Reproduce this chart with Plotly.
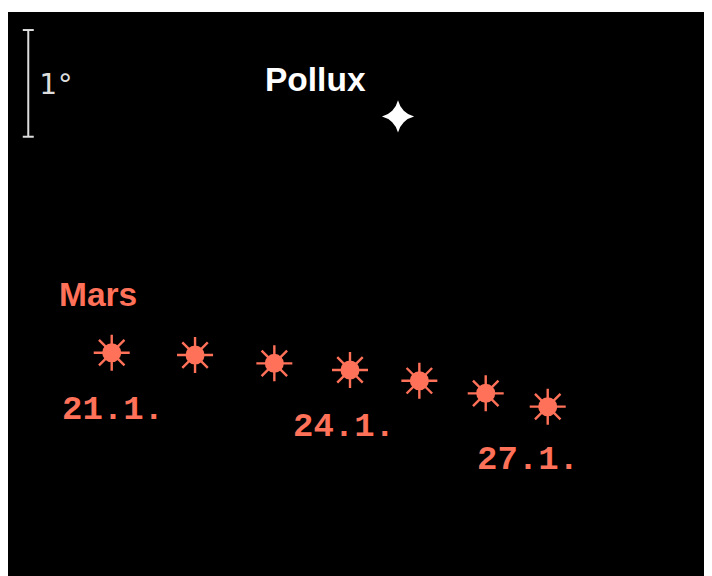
import plotly.graph_objects as go

# Mars positions (degrees, relative frame), 21.1. .. 27.1.
mars_dates = ["21.1.", "22.1.", "23.1.", "24.1.", "25.1.", "26.1.", "27.1."]
mars_x = [0.972, 1.753, 2.496, 3.205, 3.855, 4.477, 5.058]
mars_y = [2.093, 2.071, 1.993, 1.931, 1.830, 1.712, 1.587]
labelled_dates = ["21.1.", "24.1.", "27.1."]

pollux_x = [3.655]
pollux_y = [4.307]

scale_x = 0.19
scale_y0 = 4.117
scale_len = 1.0  # degrees

MARS = "#FF7158"
WHITE = "#FFFFFF"
GREY = "#DDDDDD"

fig = go.Figure()

# Mars rays
fig.add_trace(go.Scatter(
    x=mars_x, y=mars_y, mode="markers",
    marker=dict(symbol="asterisk-open", size=30, color=MARS, line=dict(color=MARS, width=2.4)),
    hoverinfo="skip", showlegend=False))
# Mars disc
fig.add_trace(go.Scatter(
    x=mars_x, y=mars_y, mode="markers",
    marker=dict(symbol="circle", size=19, color=MARS, line=dict(width=0)),
    text=mars_dates, hoverinfo="text", showlegend=False))
# Pollux
fig.add_trace(go.Scatter(
    x=pollux_x, y=pollux_y, mode="markers",
    marker=dict(symbol="star-diamond", size=23, color=WHITE, line=dict(width=0)),
    hoverinfo="skip", showlegend=False))
fig.add_trace(go.Scatter(
    x=pollux_x, y=pollux_y, mode="markers",
    marker=dict(symbol="circle", size=14, color=WHITE, line=dict(width=0)),
    hoverinfo="skip", showlegend=False))

# scale bar
fig.add_shape(type="line", x0=scale_x, x1=scale_x, y0=scale_y0, y1=scale_y0 + scale_len,
              line=dict(color=GREY, width=2))
for yy in (scale_y0, scale_y0 + scale_len):
    fig.add_shape(type="line", xsizemode="pixel", xanchor=scale_x, x0=-5.5, x1=5.5,
                  y0=yy, y1=yy, line=dict(color=GREY, width=2))
fig.add_annotation(x=scale_x, y=scale_y0 + scale_len / 2, text="1°", showarrow=False,
                   xanchor="left", yanchor="middle", xshift=9, yshift=-1,
                   font=dict(family="DejaVu Sans Mono", size=29, color=GREY))

# labels
fig.add_annotation(x=pollux_x[0], y=pollux_y[0], text="<b>Pollux</b>", showarrow=False,
                   xanchor="center", yanchor="middle", xshift=-82.5, yshift=37,
                   font=dict(family="Liberation Sans", size=33.5, color=WHITE))
fig.add_annotation(x=mars_x[0], y=mars_y[0], text="<b>Mars</b>", showarrow=False,
                   xanchor="center", yanchor="middle", xshift=-14, yshift=58,
                   font=dict(family="Liberation Sans", size=33.5, color=MARS))
label_shift = {"21.1.": (1, -57), "24.1.": (-6, -57), "27.1.": (-20, -53)}
for d in labelled_dates:
    i = mars_dates.index(d)
    dx, dy = label_shift[d]
    fig.add_annotation(x=mars_x[i], y=mars_y[i], text="<b>" + d + "</b>", showarrow=False,
                       xanchor="center", yanchor="middle", xshift=dx, yshift=dy,
                       font=dict(family="Liberation Mono", size=34, color=MARS))

fig.update_xaxes(range=[0, 6.532], visible=False, fixedrange=True)
fig.update_yaxes(range=[0, 5.286], visible=False, fixedrange=True)
fig.update_layout(width=712, height=576, margin=dict(l=0, r=15, t=4, b=8),
                  paper_bgcolor="white", plot_bgcolor="black", showlegend=False)

fig.write_html("out.html", config={"displayModeBar": False})
